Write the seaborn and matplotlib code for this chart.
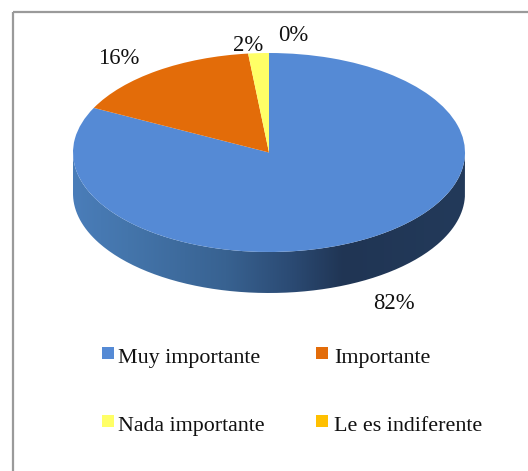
import numpy as np
import matplotlib
matplotlib.use("Agg")
import matplotlib.pyplot as plt
from matplotlib.path import Path
from matplotlib.patches import PathPatch, Rectangle
from matplotlib.colors import LinearSegmentedColormap
import seaborn as sns

sns.set_theme(style="white")
plt.rcParams['font.family'] = ['Liberation Serif', 'DejaVu Serif']

categories = ["Muy importante", "Importante", "Nada importante", "Le es indiferente"]
values = [82.4, 15.9, 1.7, 0.0]
pct_labels = ["82%", "16%", "2%", "0%"]
colors = ["#558ad5", "#e36c09", "#ffff66", "#ffc000"]

W, H = 528, 471
CX, CY, RX, RY, DEPTH = 269, 152.5, 196, 99.5, 41

fig = plt.figure(figsize=(W/100, H/100), dpi=100, facecolor="white")

# full-figure pixel overlay for frame, labels, legend
bg = fig.add_axes([0, 0, 1, 1], zorder=3)
bg.set_xlim(0, W); bg.set_ylim(H, 0); bg.axis("off"); bg.patch.set_alpha(0)
for xs, ys in [([12.5, 12.5], [11.5, H]), ([12.5, W], [11.5, 11.5])]:
    bg.plot(xs, ys, color="#9a9a9a", lw=1.6, solid_capstyle="butt")

# pie axes: unit circle maps to ellipse
ax = fig.add_axes([(CX-RX)/W, (H-CY-RY-DEPTH)/H, 2*RX/W, (2*RY+DEPTH)/H], zorder=1)
d = DEPTH/RY
wedges, _ = ax.pie(values, colors=colors, startangle=90, counterclock=False, radius=1,
                   wedgeprops=dict(linewidth=0), frame=False, normalize=True)
for w in wedges:
    w.set_zorder(3)
ax.set_aspect("auto")
ax.axis("off")

# side wall with horizontal gradient
t = np.linspace(np.pi, 2*np.pi, 200)
xa, ya = np.cos(t), np.sin(t)
verts = np.r_[np.c_[xa, ya], np.c_[xa[::-1], ya[::-1]-d], [[xa[0], ya[0]]]]
clip = PathPatch(Path(verts), transform=ax.transData, fc="none", ec="none")
ax.add_patch(clip)
cmap = LinearSegmentedColormap.from_list("wall", [
    (0.0, "#4a7db9"), (0.14, "#4475ab"), (0.39, "#386291"), (0.56, "#2b4a73"),
    (0.69, "#203554"), (1.0, "#233a5a")])
im = ax.imshow(np.linspace(0, 1, 256)[None, :], cmap=cmap, extent=[-1, 1, -1-d, 0],
               aspect="auto", zorder=2, interpolation="bilinear")
im.set_clip_path(clip)
ax.set_xlim(-1, 1); ax.set_ylim(-1-d, 1)

# percentage labels
txt = "#111111"
for lab, (x, y) in zip(pct_labels, [(394, 309), (119, 64), (248, 51), (293, 41)]):
    bg.text(x, y, lab, ha="center", va="baseline", fontsize=16.3, color=txt)

# legend
for c, lab, (x, y), tx in zip(colors, categories,
                              [(102, 347), (316, 347), (102, 415), (316, 415)],
                              [118.5, 334.5, 118.5, 334.5]):
    bg.add_patch(Rectangle((x, y), 12, 12, fc=c, ec="none"))
    bg.text(tx, y+16, lab, ha="left", va="baseline", fontsize=15.8, color=txt)

fig.savefig("out.png", dpi=100, facecolor="white")
